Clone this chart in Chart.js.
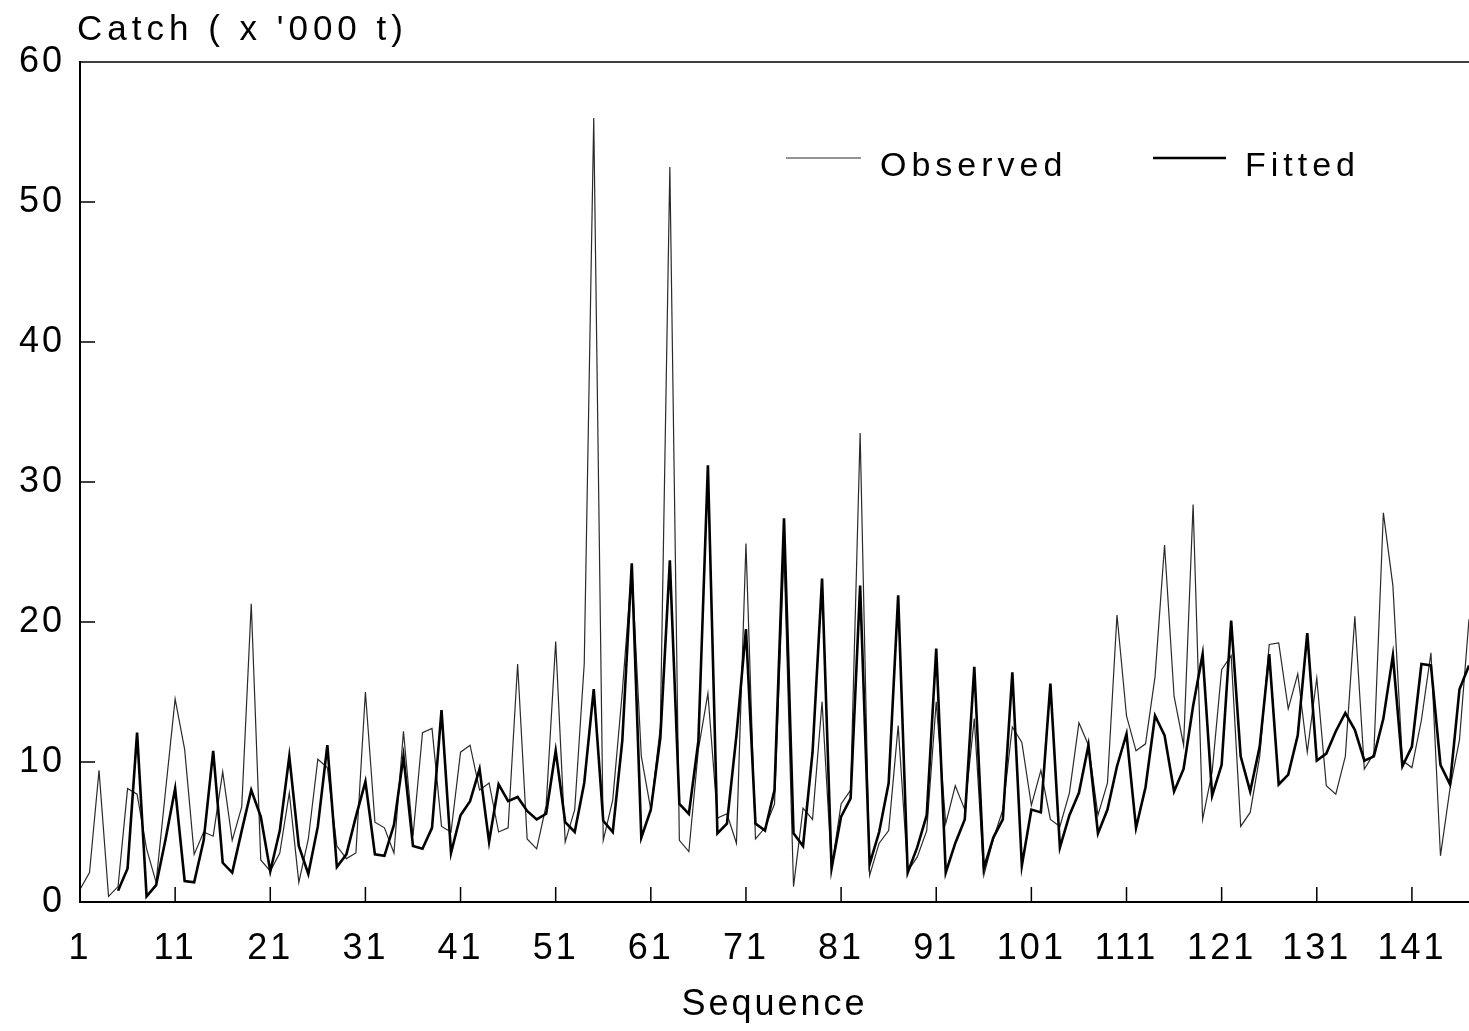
<!DOCTYPE html>
<html>
<head>
<meta charset="utf-8">
<script src="https://cdn.jsdelivr.net/npm/chart.js@4.4.1/dist/chart.umd.min.js"></script>
<style>
html,body{margin:0;padding:0;background:#fff;}
</style>
</head>
<body>
<canvas id="grafica" width="1469" height="1031"></canvas>
<script>
//------------------ Datos ------------------
var observed = [
  0.9, 2.1, 9.4, 0.4, 1.1, 8.1, 7.7, 3.8, 1.4, 8.0,
  14.5, 10.9, 3.4, 5.0, 4.7, 9.3, 4.4, 6.8, 21.3, 3.0,
  2.2, 3.5, 7.8, 1.4, 4.5, 10.2, 9.6, 4.0, 3.1, 3.5,
  15.0, 5.7, 5.3, 3.5, 12.2, 4.7, 12.1, 12.4, 5.4, 5.0,
  10.7, 11.2, 8.0, 8.5, 5.0, 5.3, 17.0, 4.5, 3.8, 6.9,
  18.6, 4.3, 6.6, 17.0, 56.0, 4.4, 7.3, 15.0, 23.9, 10.4,
  6.6, 12.5, 52.5, 4.4, 3.6, 10.9, 14.9, 6.0, 6.3, 4.2,
  25.6, 4.5, 5.3, 7.0, 25.0, 1.1, 6.7, 5.9, 14.3, 2.4,
  7.0, 8.0, 33.5, 1.9, 4.2, 5.1, 12.6, 2.2, 3.2, 5.1,
  14.3, 5.6, 8.3, 6.6, 13.1, 1.9, 4.5, 6.6, 12.5, 11.4,
  6.9, 9.4, 5.9, 5.4, 7.8, 12.8, 11.2, 6.2, 8.5, 20.5,
  13.3, 10.8, 11.3, 16.1, 25.5, 14.7, 11.2, 28.4, 5.9, 9.3,
  16.6, 17.6, 5.4, 6.4, 10.4, 18.4, 18.5, 13.8, 16.3, 10.7,
  16.0, 8.3, 7.7, 10.4, 20.4, 9.5, 10.6, 27.8, 22.6, 10.1,
  9.6, 13.0, 17.8, 3.3, 8.1, 11.6, 20.2, 12.0
];
var fitted = [
  null, null, null, null, 0.8, 2.4, 12.1, 0.4, 1.2, 4.5,
  8.1, 1.5, 1.4, 4.4, 10.8, 2.8, 2.1, 5.1, 8.0, 6.1,
  2.2, 5.1, 10.4, 4.0, 2.0, 5.4, 11.2, 2.5, 3.4, 6.1,
  8.6, 3.4, 3.3, 5.5, 10.4, 4.0, 3.8, 5.3, 13.7, 3.5,
  6.2, 7.2, 9.5, 4.3, 8.4, 7.2, 7.5, 6.5, 5.9, 6.3,
  10.8, 5.7, 5.0, 8.5, 15.2, 5.8, 5.0, 11.5, 24.2, 4.6,
  6.6, 11.7, 24.4, 7.0, 6.3, 11.5, 31.2, 4.9, 5.6, 11.9,
  19.5, 5.6, 5.1, 8.0, 27.4, 4.9, 4.0, 10.7, 23.1, 2.4,
  6.1, 7.4, 22.6, 2.7, 5.0, 8.5, 21.9, 2.1, 3.9, 6.2,
  18.1, 2.1, 4.2, 5.9, 16.8, 2.4, 4.6, 5.9, 16.4, 2.6,
  6.6, 6.4, 15.6, 3.9, 6.2, 7.8, 11.2, 4.9, 6.6, 9.7,
  12.0, 5.3, 8.2, 13.3, 11.9, 7.9, 9.5, 14.0, 17.7, 7.6,
  9.8, 20.1, 10.4, 7.9, 11.1, 17.7, 8.4, 9.1, 11.9, 19.2,
  10.1, 10.6, 12.2, 13.5, 12.3, 10.1, 10.4, 13.1, 17.6, 9.7,
  11.1, 17.0, 16.9, 9.8, 8.4, 15.2, 16.9, 15.0
];
var xTicks = [1, 11, 21, 31, 41, 51, 61, 71, 81, 91, 101, 111, 121, 131, 141];
var yTicks = [0, 10, 20, 30, 40, 50, 60];
var seriesNames = ["Observed", "Fitted"];
var yTitle = "Catch ( x '000 t)";
var xTitle = "Sequence";

var fuente = "'Liberation Sans', Arial, sans-serif";

function puntos(valores) {
  return valores.map(function (v, i) { return { x: i + 1, y: v }; });
}

//------------------ Plugin: marco, marcas internas, titulo y leyenda ------------------
var extras = {
  id: 'extras',
  beforeDraw: function (chart) {
    chart.ctx.letterSpacing = '3px';
  },
  afterDraw: function (chart) {
    var ctx = chart.ctx;
    var a = chart.chartArea;
    var sx = chart.scales.x;
    var sy = chart.scales.y;
    ctx.save();
    ctx.strokeStyle = '#000';
    ctx.lineWidth = 1.5;
    ctx.beginPath();
    ctx.moveTo(a.left, a.top);
    ctx.lineTo(a.right, a.top);
    sx.ticks.forEach(function (t) {
      var px = sx.getPixelForValue(t.value);
      ctx.moveTo(px, a.bottom);
      ctx.lineTo(px, a.bottom - 15);
    });
    sy.ticks.forEach(function (t) {
      var py = sy.getPixelForValue(t.value);
      ctx.moveTo(a.left, py);
      ctx.lineTo(a.left + 15, py);
    });
    ctx.stroke();

    // titulo del eje y
    ctx.fillStyle = '#000';
    ctx.letterSpacing = '5px';
    ctx.font = '35px ' + fuente;
    ctx.textAlign = 'left';
    ctx.textBaseline = 'alphabetic';
    ctx.fillText(yTitle, 77, 40);

    // leyenda
    var ds = chart.data.datasets;
    var items = [
      { x: 786, w: 75, tx: 880 },
      { x: 1153, w: 73, tx: 1245 }
    ];
    ctx.font = '34px ' + fuente;
    ctx.letterSpacing = '5px';
    items.forEach(function (it, k) {
      ctx.strokeStyle = ds[k].borderColor;
      ctx.lineWidth = ds[k].borderWidth;
      ctx.beginPath();
      ctx.moveTo(it.x, 158);
      ctx.lineTo(it.x + it.w, 158);
      ctx.stroke();
      ctx.fillText(ds[k].label, it.tx, 176);
    });
    ctx.restore();
  }
};

var c = document.getElementById("grafica");
var chart = new Chart(c, {
  type: 'line',
  data: {
    datasets: [
      {
        label: seriesNames[0],
        data: puntos(observed),
        borderColor: '#2a2a2a',
        borderWidth: 1.2,
        pointRadius: 0,
        tension: 0,
        order: 2
      },
      {
        label: seriesNames[1],
        data: puntos(fitted),
        borderColor: '#000',
        borderWidth: 2.6,
        pointRadius: 0,
        tension: 0,
        order: 1
      }
    ]
  },
  options: {
    responsive: false,
    animation: false,
    layout: { padding: { top: 62, left: 0, right: 0, bottom: 0 } },
    plugins: {
      legend: { display: false },
      tooltip: { enabled: false }
    },
    scales: {
      x: {
        type: 'linear',
        min: 1,
        max: 147,
        afterBuildTicks: function (s) {
          s.ticks = xTicks.map(function (v) { return { value: v }; });
        },
        afterFit: function (s) { s.height = 129; },
        grid: { display: false, drawTicks: false },
        border: { display: true, color: '#000', width: 2 },
        ticks: {
          color: '#000',
          font: { family: fuente, size: 36 },
          padding: 25,
          maxRotation: 0,
          autoSkip: false
        },
        title: {
          display: true,
          text: xTitle,
          color: '#000',
          font: { family: fuente, size: 36 },
          padding: { top: 0, bottom: 4 }
        }
      },
      y: {
        min: 0,
        max: 60,
        afterBuildTicks: function (s) {
          s.ticks = yTicks.map(function (v) { return { value: v }; });
        },
        afterFit: function (s) { s.width = 80; },
        grid: { display: false, drawTicks: false },
        border: { display: true, color: '#000', width: 2 },
        ticks: {
          color: '#000',
          font: { family: fuente, size: 36 },
          padding: 15
        }
      }
    }
  },
  plugins: [extras]
});
</script>
</body>
</html>
